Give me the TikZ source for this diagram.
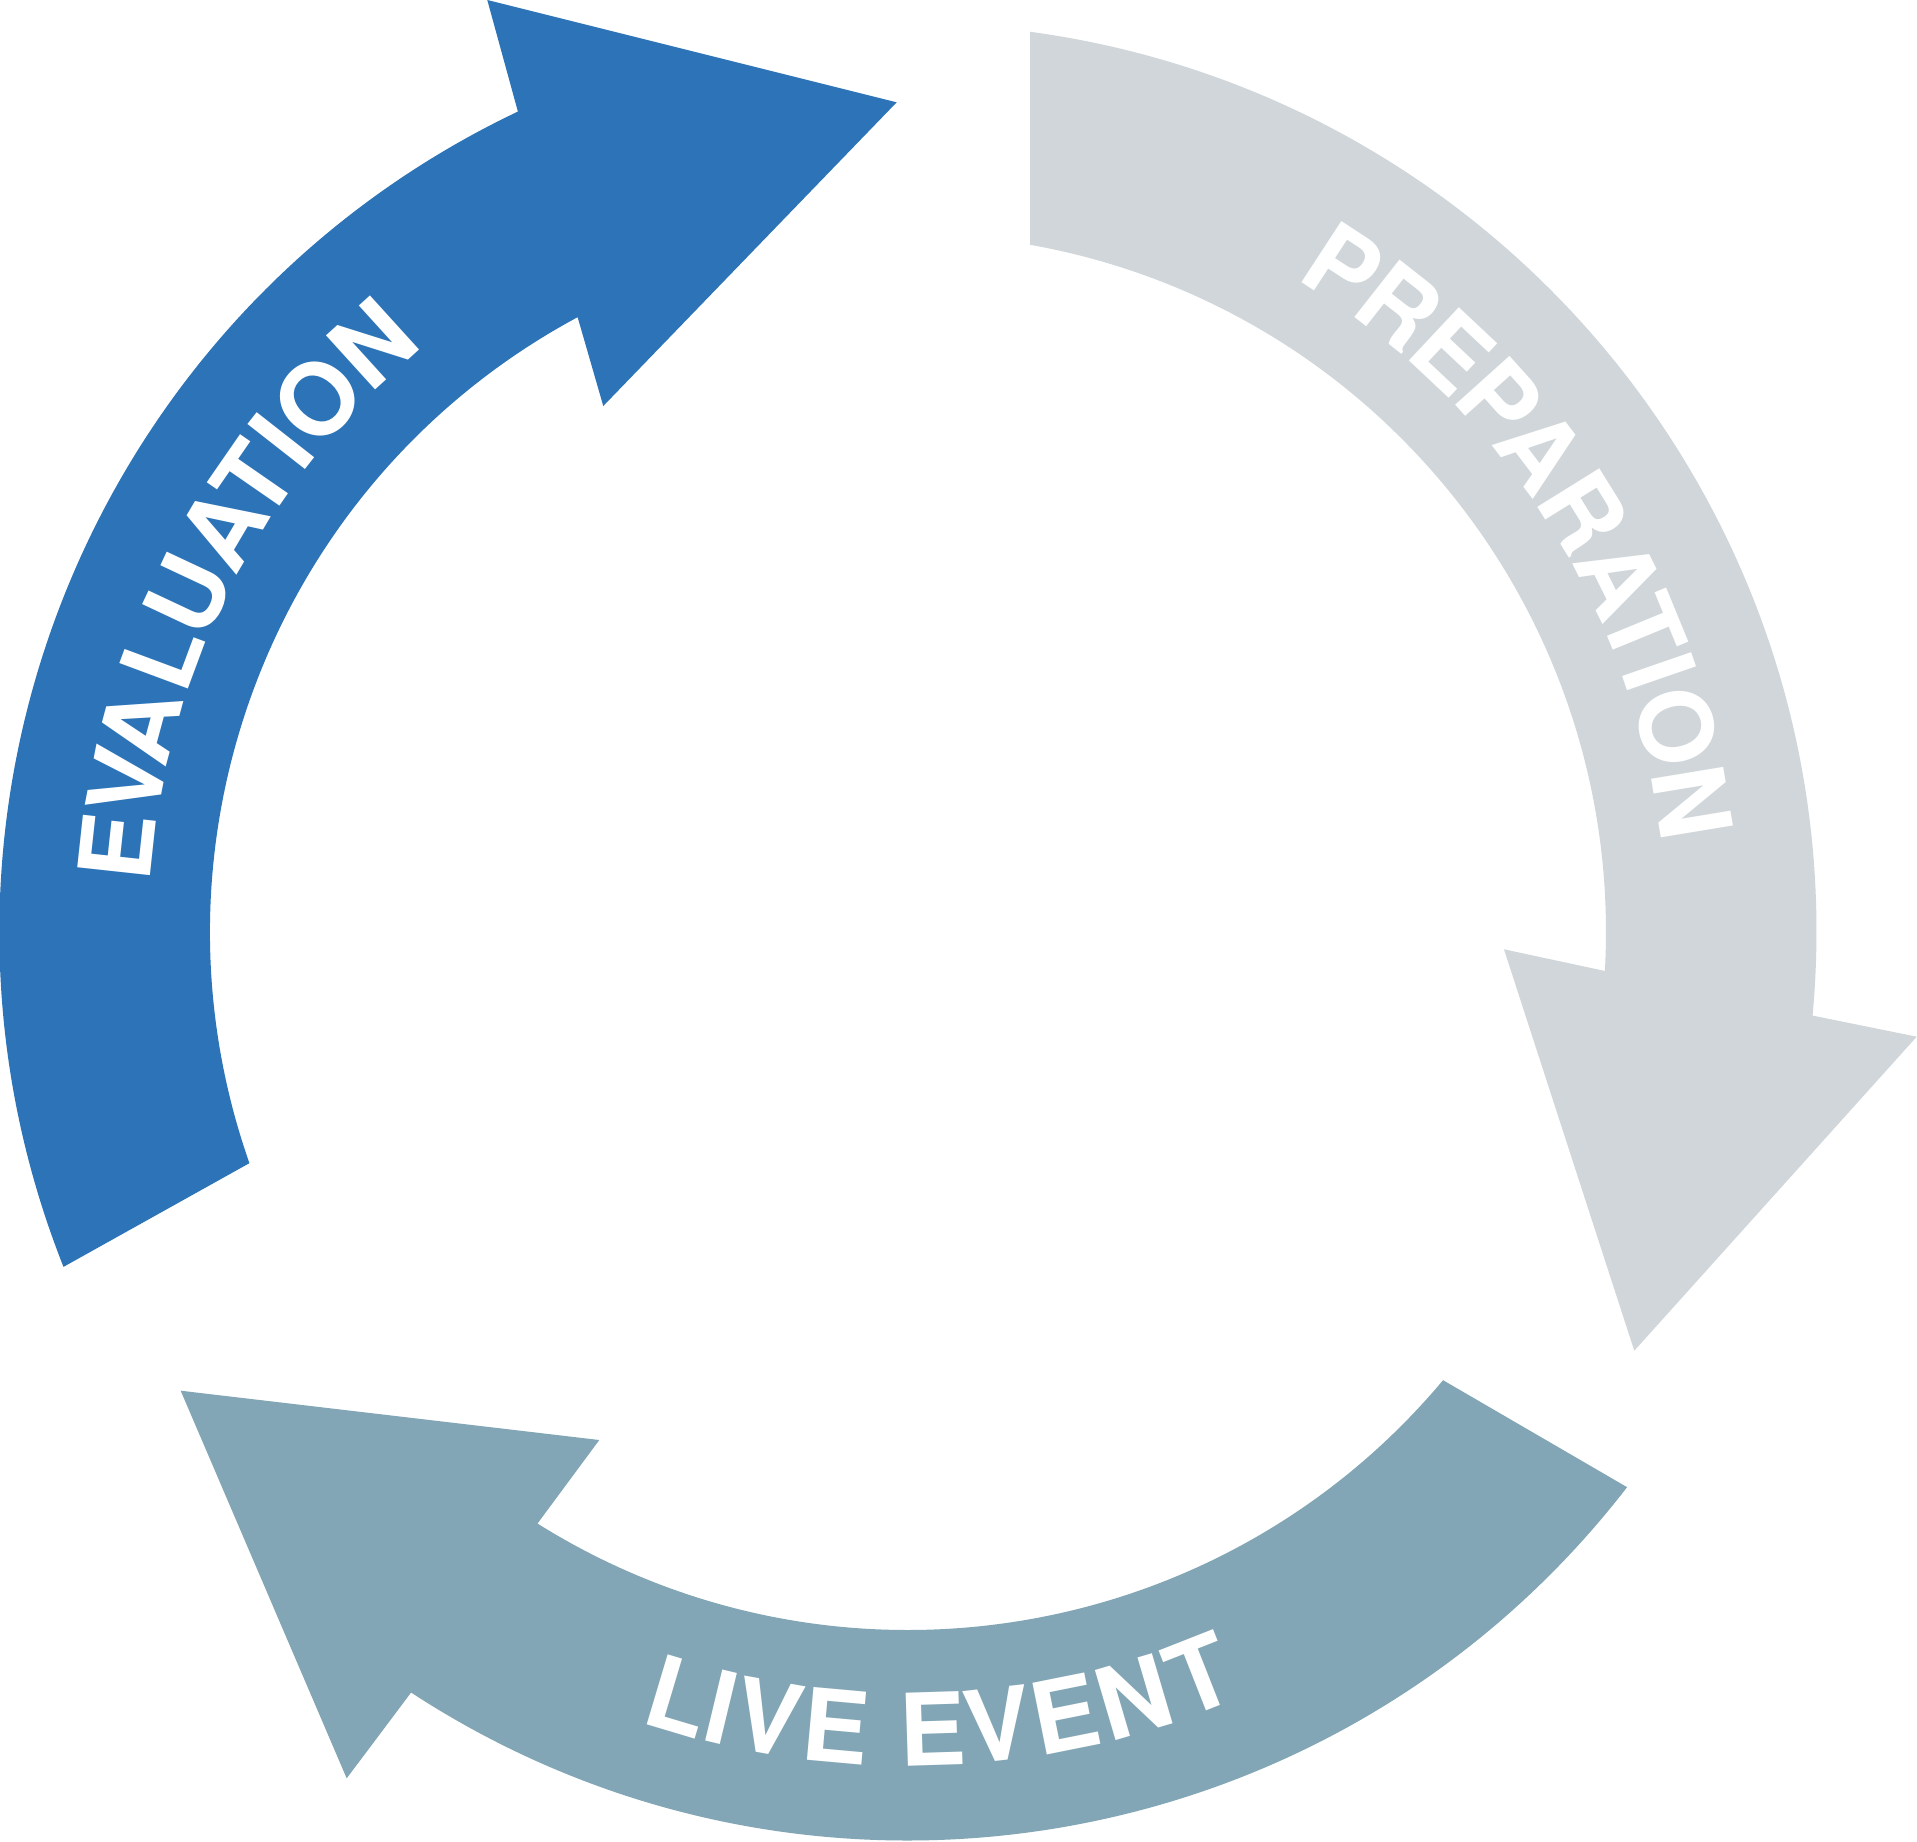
\documentclass[tikz,border=0pt]{standalone}
\usepackage{fontspec}
\setmainfont{TeX Gyre Heros}
\definecolor{evalblue}{RGB}{44,116,183}
\definecolor{prepgray}{RGB}{208,214,217}
\definecolor{livecol}{RGB}{130,166,181}
\begin{document}
\begin{tikzpicture}[x=0.01cm,y=0.01cm,
  letter/.style={text=white,font=\fontsize{28.5}{28.5}\selectfont\bfseries,inner sep=0pt,anchor=base}]
\useasboundingbox[fill=white] (-908,-909) rectangle (1009,932);
% EVALUATION arrow
\fill[evalblue] (201.63:908.5) arc[start angle=201.63,end angle=115.43,radius=908.5]
  -- (-420.7,932) -- (-11.3,829.7) -- (-304.7,526)
  -- (118.25:698) arc[start angle=118.25,end angle=199.34,radius=698] -- cycle;
% PREPARATION arrow
\fill[prepgray] (82.27:908.5) arc[start angle=82.27,end angle=-5.28,radius=908.5]
  -- (1008.7,-104.7) -- (726.3,-418.7) -- (596,-17.3)
  -- (-3.2:698) arc[start angle=-3.2,end angle=79.93,radius=698] -- cycle;
% LIVE EVENT arrow
\fill[livecol] (-39.95:698) -- (-37.67:908.5) arc[start angle=-37.67,end angle=-123.16,radius=908.5]
  -- (-561.3,-846.3) -- (-727.3,-458.7) -- (-308.7,-508)
  -- (-122.06:698) arc[start angle=-122.06,end angle=-39.95,radius=698] -- cycle;
% labels
\foreach \ch/\a [count=\i] in {E/173.8,V/169.1,A/164.9,L/159.6,U/154.86,A/149.48,T/145.33,I/141.92,O/137.93,N/132.24}
  \node[letter,rotate=\a-90] (ev\i) at (\a:759) {\ch};
\foreach \ch/\a [count=\i] in {P/56.85,R/51.85,E/46.8,P/41.95,A/37.27,R/31.88,A/26.46,T/22.37,I/19.07,O/14.99,N/9.37}
  \node[letter,rotate=\a-90] (pr\i) at (\a:759) {\ch};
\foreach \ch/\a [count=\i] in {L/-106.65,I/-103.53,V/-100.06,E/-95.16,E/-88.20,V/-83.53,E/-78.66,N/-73.56,T/-68.52}
  \node[letter,rotate=\a+90] (lv\i) at (\a:834) {\ch};
\end{tikzpicture}
\end{document}
